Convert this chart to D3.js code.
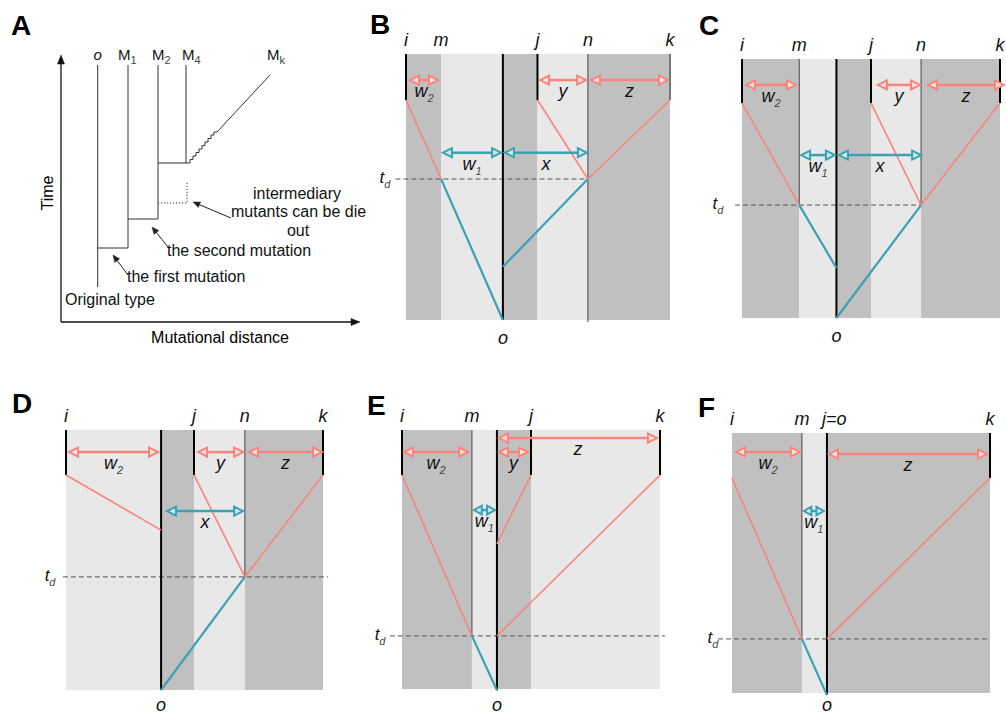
<!DOCTYPE html>
<html>
<head>
<meta charset="utf-8">
<script src="https://cdn.jsdelivr.net/npm/d3@7"></script>
<style>
  body { margin: 0; background: #fff; }
  text { font-family: Helvetica, Arial, "Liberation Sans", sans-serif; }
</style>
</head>
<body>
<svg id="fig" width="1006" height="715"></svg>
<script>
// ---- panel A: lineage sketch (x = mutational distance, t = time) ----
const stemsA = [["o", 36.7, 35, 257], ["M1", 67, 74, 257], ["M2", 97, 103, 257], ["M4", 125, 159, 257]];
const joinsA = [[36.7, 67, 74], [67, 97, 103], [97, 125, 159]];
const stairA = [[125, 159], [129, 159], [129, 162.5], [132, 162.5], [132, 166], [135, 166], [135, 169.5],
  [138, 169.5], [138, 173], [141, 173], [141, 176.5], [144, 176.5], [144, 180], [147, 180], [147, 183.5],
  [150, 183.5], [150, 187], [153, 187], [153, 190], [156, 190], [209, 247]];
const dottedA = [[97, 119], [126, 119], [126, 140]];
const labelsA = [["o", "", 36.7, "middle"], ["M", "1", 57, "start"], ["M", "2", 91, "start"],
  ["M", "4", 121, "start"], ["M", "k", 206, "start"]];
const notesA = [["intermediary", 236, 123, "middle"], ["mutants can be die", 170, 105, "start"],
  ["out", 237, 86, "middle"], ["the second mutation", 106, 66, "start"],
  ["the first mutation", 66, 40, "start"], ["Original type", 4, 17, "start"]];
const pointersA = [[[170, 104], [132, 120]], [[107, 75], [91, 95]], [[67, 47], [52, 67]]];

// ---- panels B-F: tip positions (0-100 across), band shades, stems, branches, arrows ----
const tipsB = [["i", 0], ["m", 13.3], ["o", 36.7], ["j", 49.8], ["n", 68.9], ["k", 100]];
const shadeB = ["d", "l", "d", "l", "d"];
const stemsB = [["i", 82.7, 100, "tip"], ["j", 82.7, 100, "tip"], ["k", 82.7, 100, "tipg"],
  ["o", 0, 100, "trunk"], ["n", -0.8, 100, "thin"]];
const redB = [["i", 82.7, "m", 53], ["j", 82.7, "n", 53], ["k", 82.7, "n", 53]];
const tealB = [["m", 53, "o", 0], ["n", 53, "o", 20]];
const arrowsB = [[1.1, 12.5, 90.2, "r", "w", "2"], [50.4, 68.6, 90.2, "r", "y", ""],
  [69.7, 99.6, 90.2, "r", "z", ""], [13.6, 36.4, 62.9, "t", "w", "1"], [37.1, 68.9, 62.9, "t", "x", ""]];
const tdB = [53, -4, 68.9, -8];

const tipsC = [["i", 0], ["m", 22.2], ["o", 36.6], ["j", 50], ["n", 69.4], ["k", 100]];
const shadeC = ["d", "l", "d", "l", "d"];
const stemsC = [["i", 83, 100, "tip"], ["j", 83, 100, "tip"], ["k", 83, 100, "tip"],
  ["o", 0, 100, "trunk"], ["m", 43.6, 100, "thin"], ["n", 43.6, 100, "thin"]];
const redC = [["i", 83, "m", 43.6], ["j", 83, "n", 43.6], ["k", 83, "n", 43.6]];
const tealC = [["m", 43.6, "o", 19.3], ["n", 43.6, "o", 0]];
const arrowsC = [[1.2, 21.3, 90, "r", "w", "2"], [52.3, 69.4, 90, "r", "y", ""],
  [71.7, 101.9, 90, "r", "z", ""], [22.5, 36.4, 62.9, "t", "w", "1"], [37.2, 69.8, 62.9, "t", "x", ""]];
const tdC = [43.6, -2.7, 69.4, -9.3];

const tipsD = [["i", 0], ["o", 37], ["j", 49.8], ["n", 69.6], ["k", 100]];
const shadeD = ["l", "d", "l", "d"];
const stemsD = [["i", 82.7, 100, "tip"], ["j", 82.7, 100, "tip"], ["k", 82.7, 100, "tip"],
  ["o", 0, 100, "trunk"], ["n", 43.5, 100, "thin"]];
const redD = [["i", 82.7, "o", 61.5], ["j", 82.7, "n", 43.5], ["k", 82.7, "n", 43.5]];
const tealD = [["n", 43.5, "o", 0]];
const arrowsD = [[0.8, 36.2, 91.5, "r", "w", "2"], [51, 69.3, 91.5, "r", "y", ""],
  [70.8, 100, 91.5, "r", "z", ""], [38.9, 69.3, 68.8, "t", "x", ""]];
const tdD = [43.5, -1.2, 102, -6.2];

const tipsE = [["i", 0], ["m", 27.1], ["o", 36.8], ["j", 50], ["k", 100]];
const shadeE = ["d", "l", "d", "l"];
const stemsE = [["i", 82.6, 100, "tip"], ["j", 82.6, 100, "tip"], ["k", 82.6, 100, "tip"],
  ["o", -0.5, 100, "trunk"], ["m", 20.5, 100, "thin"]];
const redE = [["i", 82.6, "m", 20.5], ["j", 82.6, "o", 56], ["k", 82.6, "o", 20.5]];
const tealE = [["m", 20.5, "o", -0.5]];
const arrowsE = [[0.4, 26, 91.5, "r", "w", "2"], [37.2, 49.2, 91.5, "r", "y", ""],
  [37.2, 99.2, 96.9, "r", "z", ""], [27.5, 36.4, 69.1, "t", "w", "1"]];
const tdE = [20.5, -4.7, 102, -8.5];

const tipsF = [["i", 0], ["m", 27.1], ["j=o", 36.8], ["k", 100]];
const shadeF = ["d", "l", "d"];
const stemsF = [["k", 82.7, 100, "tip"], ["j=o", -0.8, 100, "trunk"], ["m", 20.8, 100, "thin"]];
const redF = [["i", 82.7, "m", 20.8], ["k", 82.7, "j=o", 20.8]];
const tealF = [["m", 20.8, "j=o", -0.8]];
const arrowsF = [[1.2, 26.7, 92.7, "r", "w", "2"], [37.2, 99.2, 91.9, "r", "z", ""],
  [27.5, 36, 70, "t", "w", "1"]];
const tdF = [20.8, -5.4, 100, -7.4];

const RED = "#f9847c", TEAL = "#3ba2b4", DARK = "#c0c0c0", LIGHT = "#e8e8e8";
const svg = d3.select("#fig");

function head(g, tx, ty, ux, uy, len, half, stroke, fill, sw) {
  const bx = tx - ux * len, by = ty - uy * len;
  const px = -uy * half, py = ux * half;
  g.append("path")
    .attr("d", `M${tx},${ty}L${bx + px},${by + py}L${bx - px},${by - py}Z`)
    .attr("fill", fill).attr("stroke", stroke).attr("stroke-width", sw)
    .attr("stroke-linejoin", "miter");
}

function subText(g, x, y, main, sub, o) {
  const t = g.append("text").attr("x", x).attr("y", y)
    .attr("text-anchor", o.anchor || "middle")
    .attr("font-size", o.size).attr("font-style", o.italic ? "italic" : "normal")
    .attr("fill", "#111");
  t.append("tspan").text(main);
  if (sub) t.append("tspan").attr("dy", o.size * 0.28).attr("font-size", o.sub)
    .attr("fill", "#444").text(sub);
  return t;
}

function panelLetter(ch, x, y) {
  svg.append("text").attr("x", x).attr("y", y).attr("font-size", 28)
    .attr("font-weight", "bold").attr("fill", "#000").text(ch);
}

// ---------------- Panel A ----------------
{
  const x = d3.scaleLinear().domain([0, 300]).range([61, 361]);
  const y = d3.scaleLinear().domain([0, 267]).range([322, 55]);
  const g = svg.append("g");
  g.append("line").attr("x1", x(0)).attr("y1", y(0)).attr("x2", x(0)).attr("y2", y(259))
    .attr("stroke", "#111").attr("stroke-width", 1.3);
  head(g, x(0), y(267), 0, -1, 9, 3.5, "#111", "#111", 0.5);
  g.append("line").attr("x1", x(0)).attr("y1", y(0)).attr("x2", x(291)).attr("y2", y(0))
    .attr("stroke", "#111").attr("stroke-width", 1.3);
  head(g, x(299), y(0), 1, 0, 9, 3.5, "#111", "#111", 0.5);

  g.append("text").attr("transform", `translate(53,${y(129)}) rotate(-90)`)
    .attr("text-anchor", "middle").attr("font-size", 16).text("Time");
  g.append("text").attr("x", x(159)).attr("y", 343).attr("text-anchor", "middle")
    .attr("font-size", 16).text("Mutational distance");

  g.selectAll(null).data(stemsA).join("line")
    .attr("x1", d => x(d[1])).attr("x2", d => x(d[1]))
    .attr("y1", d => y(d[2])).attr("y2", d => y(d[3]))
    .attr("stroke", "#333").attr("stroke-width", 1);
  g.selectAll(null).data(joinsA).join("line")
    .attr("x1", d => x(d[0])).attr("x2", d => x(d[1]))
    .attr("y1", d => y(d[2])).attr("y2", d => y(d[2]))
    .attr("stroke", "#333").attr("stroke-width", 1);
  const line = d3.line().x(d => x(d[0])).y(d => y(d[1]));
  g.append("path").attr("d", line(stairA)).attr("fill", "none")
    .attr("stroke", "#333").attr("stroke-width", 1);
  g.append("path").attr("d", line(dottedA)).attr("fill", "none")
    .attr("stroke", "#333").attr("stroke-width", 1).attr("stroke-dasharray", "1.2,1.8");

  labelsA.forEach(d => subText(g, x(d[2]), y(262), d[0], d[1],
    { size: 15, sub: 11, italic: d[0] === "o", anchor: d[3] }));
  notesA.forEach(d => g.append("text").attr("x", x(d[1])).attr("y", y(d[2]))
    .attr("text-anchor", d[3]).attr("font-size", 16).attr("fill", "#111").text(d[0]));
  pointersA.forEach(([a, b]) => {
    const x0 = x(a[0]), y0 = y(a[1]), x1 = x(b[0]), y1 = y(b[1]);
    const L = Math.hypot(x1 - x0, y1 - y0), ux = (x1 - x0) / L, uy = (y1 - y0) / L;
    g.append("line").attr("x1", x0).attr("y1", y0).attr("x2", x1 - ux * 5).attr("y2", y1 - uy * 5)
      .attr("stroke", "#222").attr("stroke-width", 1);
    head(g, x1, y1, ux, uy, 7, 3, "#222", "#222", 0.5);
  });
}
panelLetter("A", 11, 35);

// ---------------- Panels B-F ----------------
const panels = [
  { id: "B", box: [406, 54, 670, 320], letter: [370, 34], tips: tipsB, shade: shadeB, stems: stemsB, red: redB, teal: tealB, arrows: arrowsB, td: tdB },
  { id: "C", box: [742, 59, 1000, 318], letter: [699, 35], tips: tipsC, shade: shadeC, stems: stemsC, red: redC, teal: tealC, arrows: arrowsC, td: tdC },
  { id: "D", box: [66, 430, 323, 690], letter: [12, 413], tips: tipsD, shade: shadeD, stems: stemsD, red: redD, teal: tealD, arrows: arrowsD, td: tdD },
  { id: "E", box: [402, 430, 660, 689], letter: [367, 415], tips: tipsE, shade: shadeE, stems: stemsE, red: redE, teal: tealE, arrows: arrowsE, td: tdE },
  { id: "F", box: [732, 433, 990, 693], letter: [698, 417], tips: tipsF, shade: shadeF, stems: stemsF, red: redF, teal: tealF, arrows: arrowsF, td: tdF }
];

panels.forEach(p => {
  const x = d3.scaleLinear().domain([0, 100]).range([p.box[0], p.box[2]]);
  const y = d3.scaleLinear().domain([0, 100]).range([p.box[3], p.box[1]]);
  const pos = new Map(p.tips);
  const g = svg.append("g").attr("class", "panel-" + p.id);

  const bands = d3.pairs(p.tips).map((pr, i) => ({ x0: pr[0][1], x1: pr[1][1], s: p.shade[i] }));
  g.selectAll(null).data(bands).join("rect")
    .attr("x", d => x(d.x0)).attr("width", d => x(d.x1) - x(d.x0))
    .attr("y", y(100)).attr("height", y(0) - y(100))
    .attr("fill", d => d.s === "d" ? DARK : LIGHT);

  const [td, tdx0, tdx1, tdLab] = p.td;
  g.append("line").attr("x1", x(tdx0)).attr("x2", x(tdx1)).attr("y1", y(td)).attr("y2", y(td))
    .attr("stroke", "#555").attr("stroke-width", 1).attr("stroke-dasharray", "5,3");
  subText(g, x(tdLab), y(td) + 4, "t", "d", { size: 17, sub: 11, italic: true });

  g.selectAll(null).data(p.stems).join("line")
    .attr("x1", d => x(pos.get(d[0]))).attr("x2", d => x(pos.get(d[0])))
    .attr("y1", d => y(d[1])).attr("y2", d => y(d[2]))
    .attr("stroke", d => d[3] === "thin" ? "#444" : d[3] === "tipg" ? "#777" : "#000")
    .attr("stroke-width", d => d[3] === "thin" ? 1 : 2);

  g.selectAll(null).data(p.red).join("line")
    .attr("x1", d => x(pos.get(d[0]))).attr("y1", d => y(d[1]))
    .attr("x2", d => x(pos.get(d[2]))).attr("y2", d => y(d[3]))
    .attr("stroke", RED).attr("stroke-width", 1.6);
  g.selectAll(null).data(p.teal).join("line")
    .attr("x1", d => x(pos.get(d[0]))).attr("y1", d => y(d[1]))
    .attr("x2", d => x(pos.get(d[2]))).attr("y2", d => y(d[3]))
    .attr("stroke", TEAL).attr("stroke-width", 2.2);

  p.arrows.forEach(a => {
    const col = a[3] === "r" ? RED : TEAL;
    const fill = d3.interpolateRgb(col, "#fff")(0.75);
    const x0 = x(a[0]), x1 = x(a[1]), yy = y(a[2]);
    const len = Math.min(10, (x1 - x0) / 2.6), half = Math.min(4.5, len * 0.5);
    g.append("line").attr("x1", x0 + len).attr("x2", x1 - len).attr("y1", yy).attr("y2", yy)
      .attr("stroke", col).attr("stroke-width", 2.5);
    head(g, x0 + 1, yy, -1, 0, len - 1, half, col, fill, 2);
    head(g, x1 - 1, yy, 1, 0, len - 1, half, col, fill, 2);
    subText(g, (x0 + x1) / 2, yy + 17, a[4], a[5], { size: 18, sub: 11, italic: true });
  });

  p.tips.forEach(([name, tx]) => {
    if (name === "o") return;
    if (name.includes("=")) subText(g, x(tx) - 5, y(100) - 8, name, "", { size: 18, italic: true, anchor: "start" });
    else subText(g, x(tx), y(100) - 8, name, "", { size: 18, italic: true });
  });
  const trunk = p.stems.find(d => d[3] === "trunk");
  subText(g, x(pos.get(trunk[0])), Math.min(y(0) + 24, 711), "o", "", { size: 18, italic: true });

  panelLetter(p.id, p.letter[0], p.letter[1]);
});
</script>
</body>
</html>
